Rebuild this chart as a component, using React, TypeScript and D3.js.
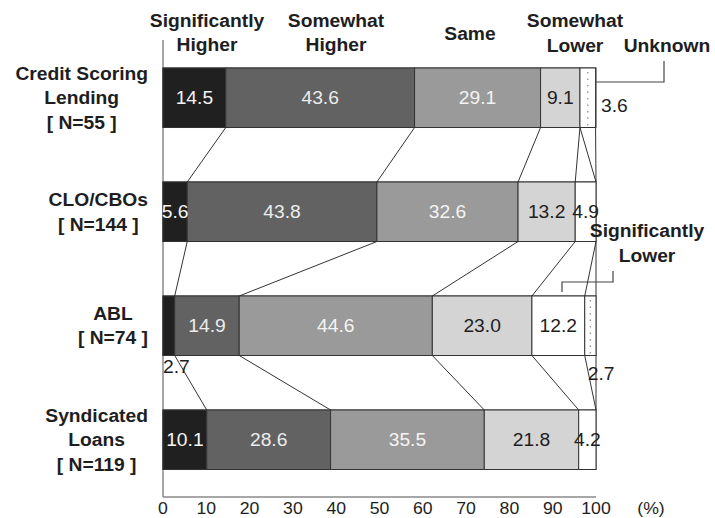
import React, { useEffect, useRef } from "react";
import * as d3 from "d3";

const W = 715;
const H = 518;

// Lending categories (rows) and their multi-line labels
const categories = ["Credit Scoring Lending", "CLO/CBOs", "ABL", "Syndicated Loans"];
const categoryLines = [
  ["Credit Scoring", "Lending", "[ N=55 ]"],
  ["CLO/CBOs", "[ N=144 ]"],
  ["ABL", "[ N=74 ]"],
  ["Syndicated", "Loans", "[ N=119 ]"],
];

// Response shares (%) per category, one array per answer
const seriesNames = [
  "Significantly Higher",
  "Somewhat Higher",
  "Same",
  "Somewhat Lower",
  "Significantly Lower",
  "Unknown",
];
const significantlyHigher = [14.5, 5.6, 2.7, 10.1];
const somewhatHigher = [43.6, 43.8, 14.9, 28.6];
const same = [29.1, 32.6, 44.6, 35.5];
const somewhatLower = [9.1, 13.2, 23.0, 21.8];
const significantlyLower = [0, 4.9, 12.2, 4.2];
const unknown = [3.6, 0, 2.7, 0];

const xTicks = [0, 10, 20, 30, 40, 50, 60, 70, 80, 90, 100];

// Styling per answer
const fills = ["#202020", "#626262", "#9a9a9a", "#d4d4d4", "#ffffff", "#ffffff"];
const textFills = ["#f4f4f4", "#ececec", "#f4f4f4", "#1e1e1e", "#1e1e1e", "#1e1e1e"];

const FONT = "'Liberation Sans', Arial, Helvetica, sans-serif";
const SX = 1.07; // horizontal stretch of the lettering

export default function App() {
  const ref = useRef<SVGSVGElement | null>(null);

  useEffect(() => {
    const svg = d3.select(ref.current);
    svg.selectAll("*").remove();

    const table = categories.map((c, i) => {
      const vals = [
        significantlyHigher[i],
        somewhatHigher[i],
        same[i],
        somewhatLower[i],
        significantlyLower[i],
        unknown[i],
      ];
      let acc = 0;
      const segs = vals.map((v, j) => {
        const s = { series: j, value: v, start: acc, end: acc + v };
        acc += v;
        return s;
      });
      return { category: c, index: i, segs };
    });

    const x = d3.scaleLinear().domain([0, 100]).range([163, 596]).clamp(true);
    const y = d3
      .scaleBand<string>()
      .domain(categories)
      .range([68, 469.5])
      .paddingInner(0.478)
      .paddingOuter(0);
    const bw = y.bandwidth();

    const text = (
      g: d3.Selection<any, any, any, any>,
      str: string,
      tx: number,
      ty: number,
      opts: { size?: number; weight?: string; anchor?: string; fill?: string } = {}
    ) =>
      g
        .append("text")
        .attr("transform", `translate(${tx},${ty}) scale(${SX},1)`)
        .attr("font-family", FONT)
        .attr("font-size", opts.size ?? 18)
        .attr("font-weight", opts.weight ?? "normal")
        .attr("text-anchor", opts.anchor ?? "middle")
        .attr("fill", opts.fill ?? "#1e1e1e")
        .text(str);

    // axes
    const axisG = svg.append("g");
    axisG
      .append("line")
      .attr("x1", x(0))
      .attr("x2", x(0))
      .attr("y1", 40)
      .attr("y2", 497)
      .attr("stroke", "#8a8a8a")
      .attr("stroke-width", 1.5);
    axisG
      .append("line")
      .attr("x1", x(0))
      .attr("x2", x(100))
      .attr("y1", 497)
      .attr("y2", 497)
      .attr("stroke", "#8a8a8a")
      .attr("stroke-width", 1.5);
    xTicks.forEach((t) => text(axisG, String(t), x(t), 513.5, { size: 16.5 }));
    text(axisG, "(%)", 651, 513.5, { size: 16.5 });

    // connector lines between adjacent bars at each cumulative boundary
    const conn = svg.append("g").attr("stroke", "#333").attr("stroke-width", 1);
    for (let i = 0; i < table.length - 1; i++) {
      const a = table[i];
      const b = table[i + 1];
      const yA = (y(a.category) as number) + bw;
      const yB = y(b.category) as number;
      a.segs.forEach((s, j) => {
        conn
          .append("line")
          .attr("x1", x(s.end))
          .attr("y1", yA)
          .attr("x2", x(b.segs[j].end))
          .attr("y2", yB);
      });
    }

    // stacked bars
    const barsG = svg.append("g");
    table.forEach((row) => {
      const top = y(row.category) as number;
      // full-width outline
      barsG
        .append("rect")
        .attr("x", x(0))
        .attr("y", top)
        .attr("width", x(100) - x(0))
        .attr("height", bw)
        .attr("fill", "#fff")
        .attr("stroke", "#333")
        .attr("stroke-width", 1);
      row.segs
        .filter((s) => s.value > 0)
        .forEach((s) => {
          barsG
            .append("rect")
            .attr("x", x(s.start))
            .attr("y", top)
            .attr("width", x(s.end) - x(s.start))
            .attr("height", bw)
            .attr("fill", fills[s.series])
            .attr("stroke", "#333")
            .attr("stroke-width", 1);
          if (seriesNames[s.series] === "Unknown") {
            const cx = (x(s.start) + x(s.end)) / 2;
            barsG
              .append("line")
              .attr("x1", cx)
              .attr("x2", cx)
              .attr("y1", top + 4)
              .attr("y2", top + bw - 2)
              .attr("stroke", "#9a9a9a")
              .attr("stroke-width", 1.4)
              .attr("stroke-dasharray", "1.5 5");
          }
        });
    });

    // value labels
    const labelsG = svg.append("g");
    table.forEach((row) => {
      const top = y(row.category) as number;
      const mid = top + bw / 2;
      row.segs
        .filter((s) => s.value > 0)
        .forEach((s) => {
          const str = s.value.toFixed(1);
          const cx = (x(s.start) + x(s.end)) / 2;
          if (row.index === 0 && s.series === 5) {
            text(labelsG, str, x(100) + 5, mid + 14, { anchor: "start" });
          } else if (row.index === 2 && s.series === 0) {
            text(labelsG, str, x(s.start), top + bw + 17, { anchor: "start" });
          } else if (row.index === 2 && s.series === 5) {
            text(labelsG, str, x(s.start) + 3, top + bw + 24, { anchor: "start" });
          } else {
            text(labelsG, str, cx, mid + 6.5, { fill: textFills[s.series] });
          }
        });
    });

    // category labels, right-aligned block with centered lines
    const catG = svg.append("g");
    table.forEach((row, i) => {
      const mid = (y(row.category) as number) + bw / 2;
      const lines = categoryLines[i];
      const g = catG.append("g");
      lines.forEach((ln, k) => {
        const by = mid + 6.5 + (k - (lines.length - 1) / 2) * 24.5;
        text(g, ln, 0, by, { weight: "bold" });
      });
      const bb = (g.node() as SVGGElement).getBBox();
      g.attr("transform", `translate(${148 - bb.width / 2},0)`);
    });

    // answer headers
    const head = svg.append("g");
    const headers: { lines: string[]; cx: number; ys: number[] }[] = [
      { lines: ["Significantly", "Higher"], cx: 207, ys: [27, 51] },
      { lines: ["Somewhat", "Higher"], cx: 336, ys: [27, 51] },
      { lines: ["Same"], cx: 470, ys: [40] },
      { lines: ["Somewhat", "Lower"], cx: 575, ys: [27, 52] },
      { lines: ["Unknown"], cx: 667, ys: [52] },
      { lines: ["Significantly", "Lower"], cx: 647, ys: [237, 262] },
    ];
    headers.forEach((h) =>
      h.lines.forEach((ln, k) => text(head, ln, h.cx, h.ys[k], { weight: "bold" }))
    );

    // leaders from headers to thin segments
    const top0 = y(categories[0]) as number;
    const top2 = y(categories[2]) as number;
    const leader = d3.line();
    head
      .append("path")
      .attr(
        "d",
        leader([
          [x(100), top0 + 14],
          [664, top0 + 14],
          [664, 61],
        ])
      )
      .attr("fill", "none")
      .attr("stroke", "#444")
      .attr("stroke-width", 1.2);
    head
      .append("path")
      .attr(
        "d",
        leader([
          [562, top2 - 4],
          [562, top2 - 14],
          [613, top2 - 14],
          [613, top2 - 25],
        ])
      )
      .attr("fill", "none")
      .attr("stroke", "#444")
      .attr("stroke-width", 1.2);
  }, []);

  return (
    <svg
      ref={ref}
      width={W}
      height={H}
      viewBox={`0 0 ${W} ${H}`}
      style={{ position: "fixed", left: 0, top: 0, background: "#fff" }}
    />
  );
}
